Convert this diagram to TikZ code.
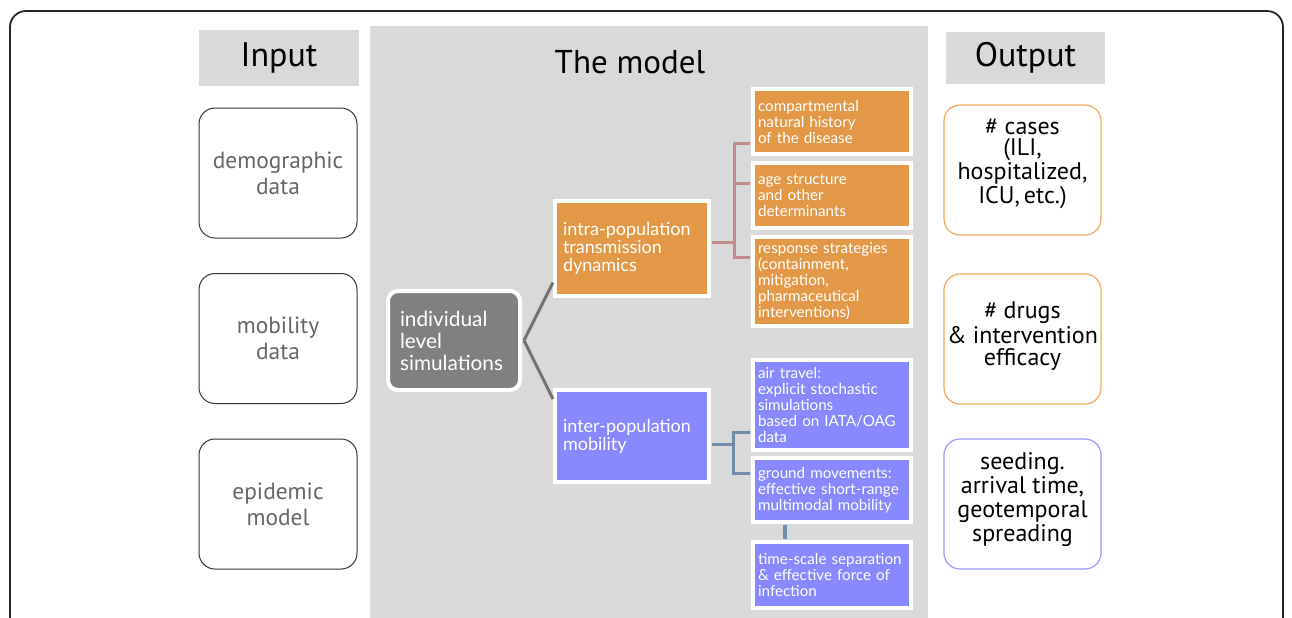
\documentclass[tikz,border=0pt]{standalone}
\usepackage{fontspec}
\setmainfont{Lato}
\newfontfamily\iofont{PT Sans}
\usetikzlibrary{calc}
\definecolor{panelgray}{HTML}{D9D9D9}
\definecolor{darkbox}{HTML}{808080}
\definecolor{orangebox}{HTML}{E39848}
\definecolor{bluebox}{HTML}{8888FF}
\definecolor{orangeline}{HTML}{EFA85E}
\definecolor{blueline}{HTML}{9A9AFF}
\definecolor{pinkline}{HTML}{C48B8B}
\definecolor{steelline}{HTML}{6F8CAA}
\definecolor{graytext}{HTML}{666666}
\newcommand{\nohyph}{\hyphenpenalty=10000\exhyphenpenalty=10000}
\tikzset{
  header/.style={fill=panelgray, inner sep=0pt, minimum width=80pt, minimum height=28pt, font=\iofont\fontsize{17}{20}\selectfont},
  inbox/.style={draw=black!80, line width=0.5pt, rounded corners=8pt, minimum width=79pt, minimum height=65pt, inner sep=0pt, align=center, text=graytext, font=\iofont\fontsize{11.7}{13}\selectfont},
  outbox/.style={draw=#1, line width=0.6pt, rounded corners=8pt, minimum width=78.5pt, minimum height=65pt, inner sep=0pt},
  outtext/.style={align=center, text=black, inner sep=0pt, font=\iofont\fontsize{12}{#1}\selectfont},
  midbox/.style={fill=#1, draw=white, line width=2pt, text=white, align=left, inner sep=0pt},
  smallbox/.style={midbox=#1, minimum width=79pt, text width=74pt, inner xsep=2.5pt, font=\fontsize{7.6}{8}\selectfont\nohyph},
  conn/.style={line width=1.5pt, line join=miter}
}
\begin{document}
\begin{tikzpicture}[x=0.5pt,y=-0.5pt]
\useasboundingbox (0,0) rectangle (1292,617);
\clip (0,0) rectangle (1292,617);
% outer frame
\draw[line width=0.9pt, black!85, rounded corners=8pt] (10,700) -- (10,11) -- (1283,11) -- (1283,700);
% middle panel
\fill[panelgray] (370,26) rectangle (928,700);

% headers
\node[header] (inhead) at (279,58) {Input};
\node[header, minimum width=79.5pt, minimum height=26pt] (outhead) at (1025.5,58) {Output};
\node[font=\iofont\fontsize{16.5}{18}\selectfont] (modelhead) at (630,62) {The model};

% input boxes
\node[inbox] (in1) at (278,173) {demographic\\data};
\node[inbox] (in2) at (278,338.5) {mobility\\data};
\node[inbox] (in3) at (278,504) {epidemic\\model};

% output boxes
\node[outbox=orangeline] (out1) at (1022.5,170) {};
\node[outtext=10.5] (out1t) at ($(out1)+(0,-6)$) {\# cases\\(ILI,\\hospitalized,\\ICU,\,etc.)};
\node[outbox=orangeline] (out2) at (1022.5,339) {};
\node[outtext=11] (out2t) at ($(out2)+(0,-3)$) {\# drugs\\\& intervention\\efficacy};
\node[outbox=blueline] (out3) at (1022.5,504) {};
\node[outtext=12] (out3t) at ($(out3)+(0,-4)$) {seeding.\\arrival time,\\geotemporal\\spreading};

% model boxes
\node[midbox=darkbox, rounded corners=5pt, minimum width=66pt, minimum height=49.5pt, text width=54pt, inner xsep=6pt, font=\fontsize{10.4}{11}\selectfont] (indiv) at (454,340.5) {individual\\level\\simulations};
\node[midbox=orangebox, minimum width=77pt, minimum height=47.5pt, text width=69pt, inner xsep=4pt, font=\fontsize{9}{9}\selectfont] (intra) at (632,248.5) {intra-population\\transmission\\dynamics};
\node[midbox=bluebox, minimum width=77pt, minimum height=46pt, text width=69pt, inner xsep=4pt, font=\fontsize{9}{9}\selectfont] (inter) at (632,436) {inter-population\\mobility};

\node[smallbox=orangebox, minimum height=32.5pt] (o1) at (832,121.5) {compartmental\\natural history\\of the disease};
\node[smallbox=orangebox, minimum height=32.5pt] (o2) at (832,195.5) {age structure\\and other\\determinants};
\node[smallbox=orangebox, minimum height=44.5pt] (o3) at (832,281.5) {response strategies\\(containment,\\mitigation,\\pharmaceutical\\interventions)};
\node[smallbox=bluebox, minimum height=45pt] (b1) at (832,405) {air travel:\\explicit stochastic\\simulations\\based on IATA/OAG\\data};
\node[smallbox=bluebox, minimum height=32pt] (b2) at (832,490) {ground movements:\\effective short-range\\multimodal mobility};
\node[smallbox=bluebox, minimum height=33pt] (b3) at (832,575) {time-scale separation\\\& effective force of\\infection};

% gray connectors
\draw[conn, darkbox!90!black] ($(indiv.east)+(2,0)$) -- ($(intra.west)+(0,34)$);
\draw[conn, darkbox!90!black] ($(indiv.east)+(2,0)$) -- ($(inter.west)+(0,-37)$);

% pink bracket
\coordinate (px) at (734,0);
\draw[conn, pinkline] ($(intra.east)+(1,-6.5)$) -- ($(intra.east -| px)+(0,-6.5)$);
\draw[conn, pinkline] ($(o1.west)+(-1,21.5)$) -| ($(o3.west -| px)+(0,-24.5)$) -- ($(o3.west)+(-1,-24.5)$);
\draw[conn, pinkline] ($(o2.west)+(-1,-12.5)$) -- ($(o2.west -| px)+(0,-12.5)$);

% blue bracket
\coordinate (sx) at (733,0);
\draw[conn, steelline] ($(inter.east)+(1,8)$) -- ($(inter.east -| sx)+(0,8)$);
\draw[conn, steelline] ($(b1.west)+(-1,27)$) -| ($(b2.west -| sx)+(0,-17)$) -- ($(b2.west)+(-1,-17)$);
\coordinate (vx) at (785,0);
\draw[conn, steelline, line width=2pt] ($(b2.south -| vx)+(0,1)$) -- ($(b3.north -| vx)+(0,-1)$);
\end{tikzpicture}
\end{document}
